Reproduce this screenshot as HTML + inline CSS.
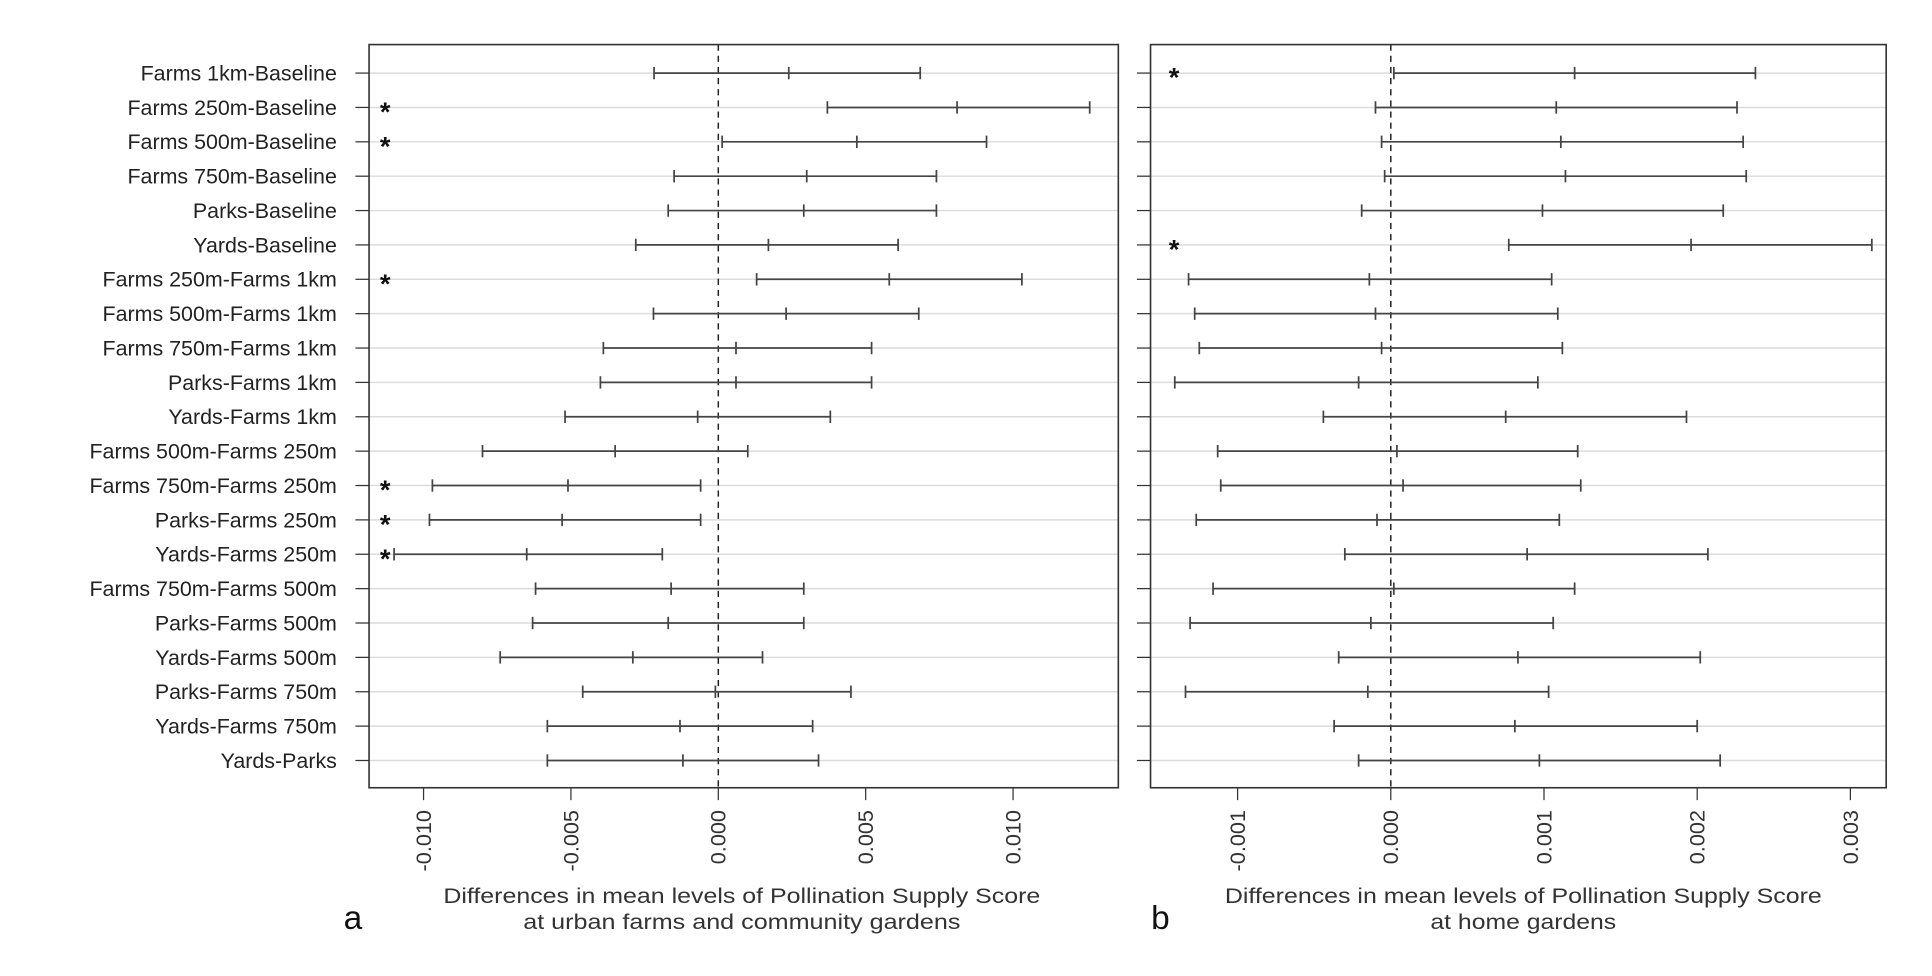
<!DOCTYPE html>
<html><head><meta charset="utf-8"><style>
html,body{margin:0;padding:0;background:#fff;}
svg{display:block;font-family:"Liberation Sans",Arial,sans-serif;}
</style></head><body>
<svg id="chart" width="1932" height="976" viewBox="0 0 1560 788" preserveAspectRatio="none" xmlns="http://www.w3.org/2000/svg"></svg>
<script>
const categories=["Farms 1km-Baseline","Farms 250m-Baseline","Farms 500m-Baseline","Farms 750m-Baseline","Parks-Baseline","Yards-Baseline","Farms 250m-Farms 1km","Farms 500m-Farms 1km","Farms 750m-Farms 1km","Parks-Farms 1km","Yards-Farms 1km","Farms 500m-Farms 250m","Farms 750m-Farms 250m","Parks-Farms 250m","Yards-Farms 250m","Farms 750m-Farms 500m","Parks-Farms 500m","Yards-Farms 500m","Parks-Farms 750m","Yards-Farms 750m","Yards-Parks"];
const aLower=[-0.00218,0.0037,0.00013,-0.0015,-0.0017,-0.0028,0.0013,-0.0022,-0.0039,-0.0040,-0.0052,-0.0080,-0.0097,-0.0098,-0.0110,-0.0062,-0.0063,-0.0074,-0.0046,-0.0058,-0.0058];
const aMean=[0.00239,0.0081,0.0047,0.0030,0.0029,0.0017,0.0058,0.0023,0.0006,0.0006,-0.0007,-0.0035,-0.0051,-0.0053,-0.0065,-0.0016,-0.0017,-0.0029,-0.0001,-0.0013,-0.0012];
const aUpper=[0.00685,0.0126,0.0091,0.0074,0.0074,0.0061,0.0103,0.0068,0.0052,0.0052,0.0038,0.0010,-0.0006,-0.0006,-0.0019,0.0029,0.0029,0.0015,0.0045,0.0032,0.0034];
const aSig=[0,1,1,0,0,0,1,0,0,0,0,0,1,1,1,0,0,0,0,0,0];
const bLower=[0.00002,-0.0001,-0.00006,-0.00004,-0.00019,0.00077,-0.00132,-0.00128,-0.00125,-0.00141,-0.00044,-0.00113,-0.00111,-0.00127,-0.0003,-0.00116,-0.00131,-0.00034,-0.00134,-0.00037,-0.00021];
const bMean=[0.0012,0.00108,0.00111,0.00114,0.00099,0.00196,-0.00014,-0.0001,-0.00006,-0.00021,0.00075,0.00004,0.00008,-0.00009,0.00089,0.00002,-0.00013,0.00083,-0.00015,0.00081,0.00097];
const bUpper=[0.00238,0.00226,0.0023,0.00232,0.00217,0.00314,0.00105,0.00109,0.00112,0.00096,0.00193,0.00122,0.00124,0.0011,0.00207,0.0012,0.00106,0.00202,0.00103,0.002,0.00215];
const bSig=[1,0,0,0,0,1,0,0,0,0,0,0,0,0,0,0,0,0,0,0,0];
const aTicks=[-0.010,-0.005,0.000,0.005,0.010];
const aTickLabels=["-0.010","-0.005","0.000","0.005","0.010"];
const bTicks=[-0.001,0,0.001,0.002,0.003];
const bTickLabels=["-0.001","0.000","0.001","0.002","0.003"];

const NS="http://www.w3.org/2000/svg";
const svg=document.getElementById('chart');
function el(tag,attrs,parent){const e=document.createElementNS(NS,tag);for(const k in attrs)e.setAttribute(k,attrs[k]);(parent||svg).appendChild(e);return e;}
const yRow=i=>59+i*27.75;
const yTop=36,yBottom=636;

function panel(name,x0,x1,xs,lower,mean,upper,sig,ticks,tickLabels,starX,letter,letterX,lab1,lab2,labX,len1,len2,showNames){
  const g=el('g',{});
  
  
  categories.forEach((c,i)=>{
    const gl=el('line',{x1:x0,x2:x1,y1:yRow(i),y2:yRow(i),stroke:'#dcdcdc','stroke-width':1.2},g);
    
    
    const tk=el('line',{x1:x0-11,x2:x0,y1:yRow(i),y2:yRow(i),stroke:'#333','stroke-width':1},g);
    
    
    if(showNames){
      const t=el('text',{x:272,y:yRow(i)+6,'text-anchor':'end','font-size':17.3,fill:'#222'},g);
      t.textContent=c;
      
      
    }
  });
  const zl=el('line',{x1:xs(0),x2:xs(0),y1:yTop,y2:yBottom,stroke:'#222','stroke-width':1.2,'stroke-dasharray':'5,4'},g);
  
  
  categories.forEach((c,i)=>{
    const y=yRow(i);
    const bar=el('g',{stroke:'#444','stroke-width':1.4},g);
    
    
    el('line',{x1:xs(lower[i]),x2:xs(upper[i]),y1:y,y2:y},bar);
    el('line',{x1:xs(lower[i]),x2:xs(lower[i]),y1:y-5,y2:y+5},bar);
    el('line',{x1:xs(upper[i]),x2:xs(upper[i]),y1:y-5,y2:y+5},bar);
    el('line',{x1:xs(mean[i]),x2:xs(mean[i]),y1:y-5,y2:y+5},bar);
    if(sig[i]){
      const s=el('text',{x:starX,y:y+11,'text-anchor':'middle','font-size':22,'font-weight':'bold',fill:'#111'},g);
      s.textContent='*';
      
      
    }
  });
  const fr=el('rect',{x:x0,y:yTop,width:x1-x0,height:yBottom-yTop,fill:'none',stroke:'#333','stroke-width':1.3},g);
  
  
  ticks.forEach((v,i)=>{
    const x=xs(v);
    const tk=el('line',{x1:x,x2:x,y1:yBottom,y2:yBottom+10,stroke:'#333','stroke-width':1},g);
    
    
    const t=el('text',{x:0,y:0,'text-anchor':'end','font-size':17.5,fill:'#333',transform:`translate(${x+6},654) rotate(-90)`},g);
    t.textContent=tickLabels[i];
    
    
  });
  const t1=el('text',{x:labX,y:729,'text-anchor':'middle','font-size':17,fill:'#333',textLength:len1,lengthAdjust:'spacingAndGlyphs'},g);
  t1.textContent=lab1;
  
  
  const t2=el('text',{x:labX,y:750,'text-anchor':'middle','font-size':17,fill:'#333',textLength:len2,lengthAdjust:'spacingAndGlyphs'},g);
  t2.textContent=lab2;
  
  
  const L=el('text',{x:letterX,y:750,'text-anchor':'middle','font-size':27,fill:'#111'},g);
  L.textContent=letter;
  
  
}
const xa=v=>580+v*23800;
const xb=v=>1123+v*123700;
panel('panel-a',298,903,xa,aLower,aMean,aUpper,aSig,aTicks,aTickLabels,311,'a',285,'Differences in mean levels of Pollination Supply Score','at urban farms and community gardens',599,482,353,true);
panel('panel-b',929,1523,xb,bLower,bMean,bUpper,bSig,bTicks,bTickLabels,948,'b',937,'Differences in mean levels of Pollination Supply Score','at home gardens',1230,482,150,false);
</script>
</body></html>
